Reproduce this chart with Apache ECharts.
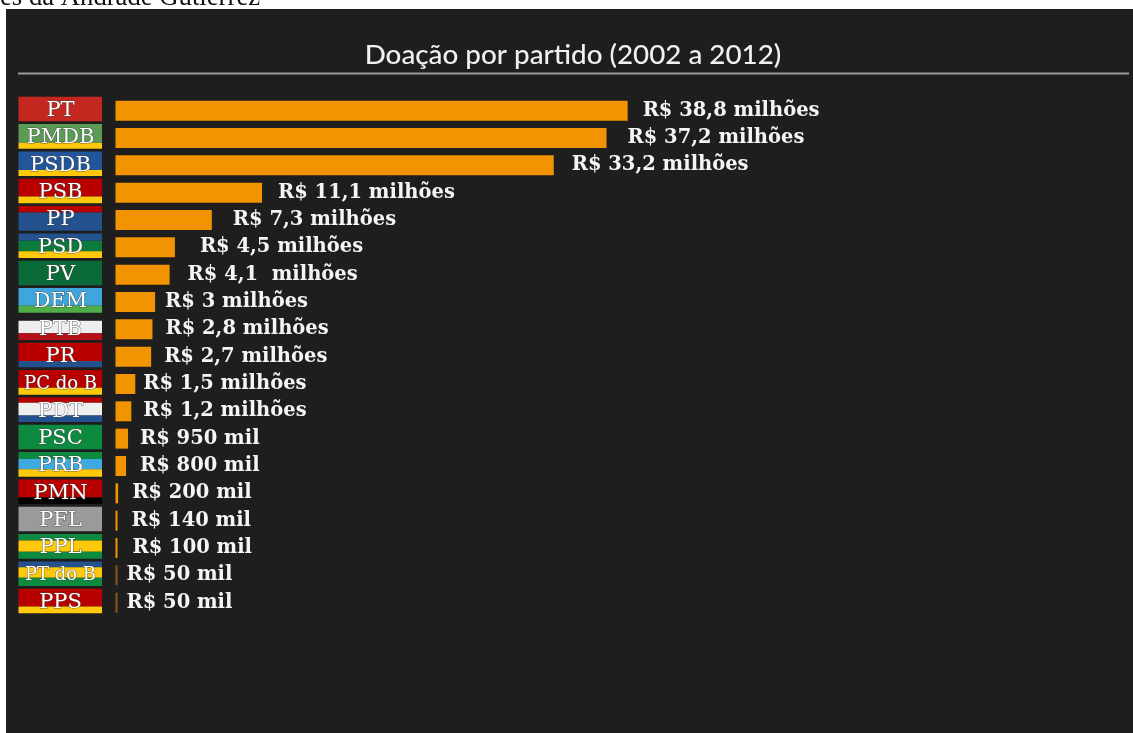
<!DOCTYPE html>
<html>
<head>
<meta charset="utf-8">
<title>Doação por partido (2002 a 2012)</title>
<script src="https://cdn.jsdelivr.net/npm/echarts@6/dist/echarts.min.js"></script>
<style>
  html, body { margin: 0; padding: 0; background: #fff; overflow: hidden; }
  #chart { width: 1133px; height: 733px; }
</style>
</head>
<body>
<div id="chart"></div>
<script>
const parties = ['PT','PMDB','PSDB','PSB','PP','PSD','PV','DEM','PTB','PR','PC do B','PDT','PSC','PRB','PMN','PFL','PPL','PT do B','PPS'];
// Donations in millions of reais
const donations = [38.8,37.2,33.2,11.1,7.3,4.5,4.1,3,2.8,2.7,1.5,1.2,0.95,0.8,0.2,0.14,0.1,0.05,0.05];
const donationLabels = ['R$ 38,8 milhões','R$ 37,2 milhões','R$ 33,2 milhões','R$ 11,1 milhões','R$ 7,3 milhões','R$ 4,5 milhões','R$ 4,1  milhões','R$ 3 milhões','R$ 2,8 milhões','R$ 2,7 milhões','R$ 1,5 milhões','R$ 1,2 milhões','R$ 950 mil','R$ 800 mil','R$ 200 mil','R$ 140 mil','R$ 100 mil','R$ 50 mil','R$ 50 mil'];
// Space between each bar's end and its label
const labelGaps = [15,21,18,16,21,25,18,10,13,13,8,12,12,14,14,14,15,9,9];

// Party flag stripes, top to bottom: [colour, share of the badge height]
const RED = '#b80000', BLUE = '#23528f', YEL = '#fdc90a', GRN = '#0b7a3a', WHT = '#eeeeee';
const flags = [
  [['#c4271f',1]],
  [['#5a9c55',0.76],[YEL,0.24]],
  [['#23559a',0.76],[YEL,0.24]],
  [[RED,0.72],[YEL,0.28]],
  [[RED,0.26],[BLUE,0.74]],
  [[BLUE,0.3],[GRN,0.42],[YEL,0.28]],
  [['#0a6b38',1]],
  [['#3ea6dd',0.72],['#4fae48',0.28]],
  [['#1e1e1e',0.22],[WHT,0.5],['#b5101a',0.28]],
  [[RED,0.74],[BLUE,0.26]],
  [[RED,0.72],[YEL,0.28]],
  [[RED,0.22],[WHT,0.52],[BLUE,0.26]],
  [['#0b8a40',1]],
  [['#0b8a40',0.28],['#3fa9e0',0.42],[YEL,0.3]],
  [[RED,0.74],['#000000',0.26]],
  [['#9a9a9a',1]],
  [['#0b8a40',0.26],[YEL,0.46],['#0b8a40',0.28]],
  [[BLUE,0.24],[YEL,0.42],['#0b8a40',0.34]],
  [[RED,0.72],[YEL,0.28]]
];
// Longer party names use a smaller badge font
const badgeFontSize = name => (name.length > 4 ? 18 : 21);

const BADGE_LEFT = 18.5, BADGE_RIGHT = 102, BADGE_H = 24.6, BADGE_LIFT = 1.6;
const BAR_COLOR = '#f29400', BAR_COLOR_FAINT = 'rgba(242,148,0,0.5)';

const chart = echarts.init(document.getElementById('chart'), null, { renderer: 'canvas' });

chart.setOption({
  backgroundColor: '#ffffff',
  animation: false,
  title: {
    text: 'Doação por partido (2002 a 2012)',
    left: 568,
    textAlign: 'center',
    top: 36,
    textStyle: { color: '#f0f0f0', fontFamily: 'Lato', fontWeight: 500, fontSize: 27.8 }
  },
  graphic: [
    { type: 'rect', z: -10, silent: true, shape: { x: 6, y: 9, width: 1127, height: 724 }, style: { fill: '#1e1e1e' } },
    { type: 'rect', z: -5, silent: true, shape: { x: 18, y: 72.5, width: 1111, height: 2 }, style: { fill: '#9c9c9c' } },
    { type: 'text', z: -12, silent: true, x: 0, y: 11, style: { text: 'es da Andrade Gutierrez', fill: '#111', fontFamily: 'Liberation Serif', fontSize: 26.7, verticalAlign: 'bottom' } }
  ],
  grid: { left: 115.5, top: 97, width: 990, height: 519.3, outerBoundsMode: 'none' },
  xAxis: { type: 'value', min: 0, max: 75, show: false },
  yAxis: {
    type: 'category',
    inverse: true,
    data: parties.map(name => ({
      value: name,
      textStyle: {
        align: 'center',
        color: '#ffffff',
        fontFamily: 'DejaVu Serif',
        fontSize: badgeFontSize(name),
        textBorderColor: 'rgba(70,70,70,0.75)',
        textBorderWidth: 1
      }
    })),
    z: 6,
    axisLine: { show: false },
    axisTick: { show: false },
    splitLine: { show: false },
    axisLabel: { interval: 0, margin: 55, hideOverlap: false }
  },
  series: [
    {
      type: 'custom',
      z: 1,
      clip: false,
      silent: true,
      encode: { x: 0, y: 1 },
      data: parties.map((p, i) => [0, i]),
      renderItem(params, api) {
        const cy = api.coord([0, api.value(1)])[1] - BADGE_LIFT;
        let y = cy - BADGE_H / 2;
        const children = flags[params.dataIndex].map(([fill, share]) => {
          const h = share * BADGE_H;
          const rect = { type: 'rect', shape: { x: BADGE_LEFT, y, width: BADGE_RIGHT - BADGE_LEFT, height: h }, style: { fill } };
          y += h;
          return rect;
        });
        return { type: 'group', children };
      }
    },
    {
      type: 'bar',
      z: 2,
      barWidth: 20,
      barMinHeight: 2,
      data: donations.map((v, i) => ({
        value: v,
        itemStyle: { color: v < 0.1 ? BAR_COLOR_FAINT : BAR_COLOR },
        label: { distance: labelGaps[i] }
      })),
      label: {
        show: true,
        position: 'right',
        color: '#f5f5f5',
        fontFamily: 'DejaVu Serif',
        fontWeight: 'bold',
        fontSize: 19.5,
        formatter: p => donationLabels[p.dataIndex]
      }
    }
  ]
});
</script>
</body>
</html>
